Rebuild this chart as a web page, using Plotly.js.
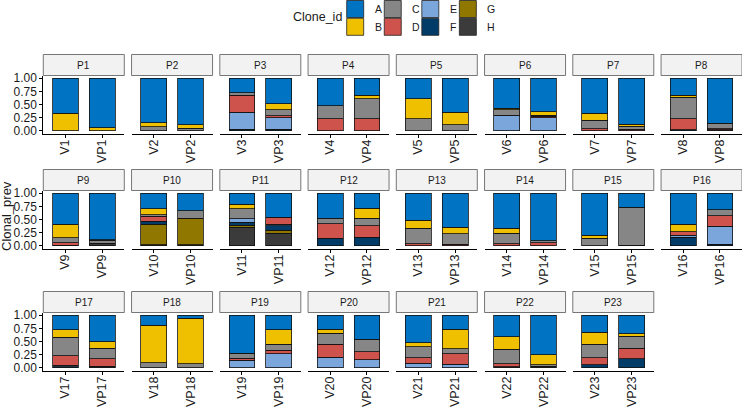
<!DOCTYPE html>
<html><head><meta charset="utf-8">
<script src="https://cdn.plot.ly/plotly-3.0.1.min.js"></script>
<style>html,body{margin:0;padding:0;background:#fff}#chart{width:742px;height:407px}</style>
</head><body><div id="chart"></div>
<script>
// ---- data ----
const patients = ['P1','P2','P3','P4','P5','P6','P7','P8','P9','P10','P11','P12','P13','P14','P15','P16','P17','P18','P19','P20','P21','P22','P23'];
const samples = ['V1','VP1','V2','VP2','V3','VP3','V4','VP4','V5','VP5','V6','VP6','V7','VP7','V8','VP8','V9','VP9','V10','VP10','V11','VP11','V12','VP12','V13','VP13','V14','VP14','V15','VP15','V16','VP16','V17','VP17','V18','VP18','V19','VP19','V20','VP20','V21','VP21','V22','VP22','V23','VP23'];
const cloneIds = ['A','B','C','D','E','F','G','H'];
const cloneColors = ['#0073C2','#EFC000','#868686','#CD534C','#7AA6DC','#003C67','#8F7700','#3B3B3B'];
const cloneA = [.67,.94, .85,.88, .28,.49, .52,.32, .39,.65, .57,.64, .67,.87, .32,.86, .59,.88, .30,.33, .21,.455, .475,.285, .51,.645, .67,.905, .80,.27, .59,.315, .28,.50, .19,.06, .72,.28, .27,.455, .52,.27, .41,.75, .325,.35];
const cloneB = [.33,.06, .07,.07, 0,.11, 0,.07, .38,.23, .03,.06, .13,.04, .04,0, .26,.01, .11,0, .09,0, 0,.19, .155,.125, .09,0, .06,0, .145,0, .14,.125, .715,.865, .01,.27, .075,0, .075,.37, .235,.19, .225,.055];
const cloneC = [0,0, .08,.05, .04,.11, .25,.38, .23,.12, .10,.02, .16,.055, .41,.10, .09,.06, .03,.145, .19,0, .105,.145, .295,.195, .20,.035, .14,.72, 0,.11, .35,.205, .095,.075, .09,.12, .205,.235, .215,.09, .28,.03, .26,.22];
const cloneD = [0,0, 0,0, .33,.04, .23,.23, 0,0, 0,.035, .04,.035, .21,.02, .05,0, .09,0, 0,.135, .28,.215, .04,.035, .04,.06, 0,0, .065,.205, .18,.14, 0,0, .04,.06, .245,.155, .10,.20, .055,0, .13,.20];
const cloneE = [0,0, 0,0, .32,.22, 0,0, 0,0, .30,.245, 0,0, 0,0, 0,0, 0,0, .06,.03, 0,0, 0,0, 0,0, 0,0, .04,.34, .03,0, 0,0, .14,.27, .205,.155, .09,.07, 0,0, 0,0];
const cloneF = [0,0, 0,0, .03,.03, 0,0, 0,0, 0,0, 0,0, .02,0, 0,0, .06,0, .06,.08, .14,.165, 0,0, 0,0, 0,0, .16,.03, .02,0, 0,0, 0,0, 0,0, 0,0, 0,0, .06,.175];
const cloneG = [0,0, 0,0, 0,0, 0,0, 0,0, 0,0, 0,0, 0,0, 0,0, .39,.505, .04,.06, 0,0, 0,0, 0,0, 0,0, 0,0, 0,0, 0,0, 0,0, 0,0, 0,0, 0,0, 0,0];
const cloneH = [0,0, 0,0, 0,0, 0,0, 0,0, 0,0, 0,0, 0,.02, .01,.05, .02,.02, .35,.24, 0,0, 0,0, 0,0, 0,.01, 0,0, 0,.03, 0,0, 0,0, 0,0, 0,0, .02,.03, 0,0];
const yTickVals = [0,0.25,0.5,0.75,1];
const yTickText = ['0.00','0.25','0.50','0.75','1.00'];

// ---- layout geometry ----
const cloneVals = [cloneA,cloneB,cloneC,cloneD,cloneE,cloneF,cloneG,cloneH];
const W = 742, H = 407;
const FONT = 'Liberation Sans, Arial, sans-serif';
const colLeft0 = 43.3, colPitch = 88.25, panelW = 81;
const rowTop = [75.5, 190.5, 312.5], plotH = 58, stripH = 21;

const traces = [];
const layout = {
  width: W, height: H, margin: {l:0,r:0,t:0,b:0},
  paper_bgcolor: '#fff', plot_bgcolor: 'rgba(0,0,0,0)',
  barmode: 'stack', showlegend: false,
  font: {family: FONT, color: '#1a1a1a'},
  shapes: [], annotations: []
};

patients.forEach((p, i) => {
  const r = Math.floor(i / 8), c = i % 8, k = i + 1;
  const sfx = k === 1 ? '' : String(k);
  const left = colLeft0 + c * colPitch;
  const top = rowTop[r];
  const xs = [samples[2*i], samples[2*i+1]];
  for (let j = cloneIds.length - 1; j >= 0; j--) {
    const v = [cloneVals[j][2*i], cloneVals[j][2*i+1]].map(d => d > 0 ? d : null);
    if (v[0] === null && v[1] === null) continue;
    traces.push({
      type: 'bar', x: xs, y: v, name: cloneIds[j], width: 0.7,
      xaxis: 'x' + sfx, yaxis: 'y' + sfx,
      marker: {color: cloneColors[j], line: {color: '#111', width: 0.8}},
      hoverinfo: 'x+y+name'
    });
  }
  layout['xaxis' + sfx] = {
    domain: [left / W, (left + panelW) / W], anchor: 'y' + sfx,
    type: 'category', categoryorder: 'array', categoryarray: xs, range: [-0.6, 1.6],
    showline: true, linecolor: '#000', linewidth: 1, ticks: 'outside', ticklen: 3, tickcolor: '#000',
    tickangle: -90, ticklabelstandoff: -3, tickfont: {size: 12.5, color: '#1a1a1a', family: FONT},
    showgrid: false, zeroline: false, fixedrange: true
  };
  layout['yaxis' + sfx] = {
    domain: [1 - (top + plotH) / H, 1 - top / H], anchor: 'x' + sfx,
    range: [-0.05, 1.05], showgrid: false, zeroline: false, fixedrange: true,
    showline: c === 0, linecolor: '#000', linewidth: 1,
    ticks: c === 0 ? 'outside' : '', ticklen: 3, tickcolor: '#000',
    tickvals: yTickVals, ticktext: yTickText, showticklabels: c === 0,
    tickfont: {size: 12, color: '#1a1a1a', family: FONT}
  };
  layout.shapes.push({
    type: 'rect', xref: 'paper', yref: 'paper',
    x0: left / W, x1: (left + panelW) / W, y0: 1 - top / H, y1: 1 - (top - stripH) / H,
    fillcolor: '#F2F2F2', line: {color: '#555', width: 0.8}
  });
  layout.annotations.push({
    xref: 'paper', yref: 'paper', x: (left + panelW / 2) / W, y: 1 - (top - stripH / 2) / H,
    xanchor: 'center', yanchor: 'middle', text: p, showarrow: false,
    font: {size: 10, color: '#1a1a1a', family: FONT}
  });
});

// legend (manual, column-major like the reference)
layout.annotations.push({
  xref: 'paper', yref: 'paper', x: 344 / W, y: 1 - 17.5 / H, xanchor: 'right', yanchor: 'middle',
  text: 'Clone_id', showarrow: false, font: {size: 12.5, color: '#1a1a1a', family: FONT}
});
cloneIds.forEach((id, j) => {
  const col = Math.floor(j / 2), row = j % 2;
  const x0 = 346.7 + col * 37.55, y0 = 0.5 + row * 17.8, s = 17;
  layout.shapes.push({
    type: 'rect', xref: 'paper', yref: 'paper',
    x0: x0 / W, x1: (x0 + s) / W, y0: 1 - (y0 + s) / H, y1: 1 - y0 / H,
    fillcolor: cloneColors[j], line: {color: '#222', width: 0.8}
  });
  layout.annotations.push({
    xref: 'paper', yref: 'paper', x: (x0 + 26) / W, y: 1 - (y0 + s / 2) / H,
    xanchor: 'left', yanchor: 'middle', text: id, showarrow: false,
    font: {size: 10.5, color: '#1a1a1a', family: FONT}
  });
});

// y axis title
layout.annotations.push({
  xref: 'paper', yref: 'paper', x: 7 / W, y: 1 - 216 / H, xanchor: 'center', yanchor: 'middle',
  text: 'Clonal_prev', textangle: -90, showarrow: false, font: {size: 13, color: '#1a1a1a', family: FONT}
});

Plotly.newPlot('chart', traces, layout, {staticPlot: true, displayModeBar: false});
</script>
</body></html>
